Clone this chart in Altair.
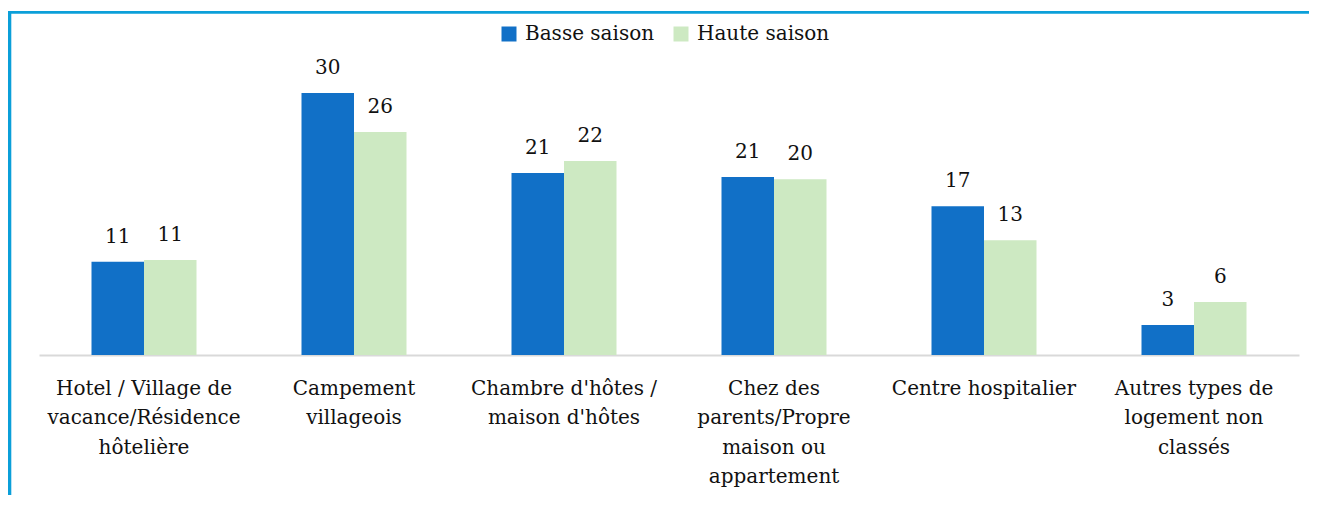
import altair as alt
import pandas as pd

categories = [
    "Hotel / Village de vacance/Résidence hôtelière",
    "Campement villageois",
    "Chambre d'hôtes / maison d'hôtes",
    "Chez des parents/Propre maison ou appartement",
    "Centre hospitalier",
    "Autres types de logement non classés",
]
label_lines = [
    ["Hotel / Village de", "vacance/Résidence", "hôtelière"],
    ["Campement", "villageois"],
    ["Chambre d'hôtes /", "maison d'hôtes"],
    ["Chez des", "parents/Propre", "maison ou", "appartement"],
    ["Centre hospitalier"],
    ["Autres types de", "logement non", "classés"],
]
series = ["Basse saison", "Haute saison"]
basse = [10.76, 30.25, 21.03, 20.57, 17.19, 3.46]
haute = [10.96, 25.76, 22.41, 20.30, 13.26, 6.11]
colors = ["#1170c7", "#cde9c2"]

rows = []
for c, b, h in zip(categories, basse, haute):
    rows.append({"cat": c, "series": series[0], "value": b})
    rows.append({"cat": c, "series": series[1], "value": h})
df = pd.DataFrame(rows)

# label expression: split categories into wrapped lines
expr = "datum.label"
for c, lines in reversed(list(zip(categories, label_lines))):
    c_esc = c.replace("'", "\\'")
    arr = "[" + ",".join("'" + l.replace("'", "\\'") + "'" for l in lines) + "]"
    expr = f"datum.label == '{c_esc}' ? {arr} : ({expr})"

FONT = "DejaVu Serif"

x_enc = alt.X(
    "cat:N",
    sort=categories,
    scale=alt.Scale(paddingInner=0.5, paddingOuter=0.25),
    axis=alt.Axis(
        title=None,
        labelAngle=0,
        labelExpr=expr,
        labelFont=FONT,
        labelFontSize=20,
        labelColor="#111111",
        labelLineHeight=29.5,
        labelPadding=23,
        labelBaseline="top",
        ticks=False,
        tickSize=0,
        domainColor="#d9d9d9",
        domainWidth=2,
        grid=False,
        labelLimit=400,
    ),
)
y_enc = alt.Y("value:Q", scale=alt.Scale(domain=[0, 35]), axis=None)
xo = alt.XOffset("series:N", sort=series)

base = alt.Chart(df)
bars = base.mark_bar().encode(
    x=x_enc,
    xOffset=xo,
    y=y_enc,
    color=alt.Color(
        "series:N",
        sort=series,
        scale=alt.Scale(domain=series, range=colors),
        legend=alt.Legend(
            title=None,
            orient="none",
            direction="horizontal",
            legendX=460,
            legendY=-28,
            symbolType="square",
            symbolSize=225,
            symbolStrokeWidth=0,
            labelFont=FONT,
            labelFontSize=20,
            labelColor="#111111",
            labelOffset=6,
            columnPadding=16,
            padding=0,
            labelLimit=300,
        ),
    ),
)
text = base.mark_text(
    font=FONT, fontSize=20, baseline="alphabetic", dy=-19, color="#111111"
).encode(
    x=x_enc,
    xOffset=xo,
    y=y_enc,
    text=alt.Text("value:Q", format=".0f"),
)

frame_df = pd.DataFrame({"a": [0]})
frame_color = "#0b9fd9"
left_line = alt.Chart(frame_df).mark_rule(color=frame_color, strokeWidth=3.3).encode(
    x=alt.value(-29.35), y=alt.value(-41), y2=alt.value(470)
)
top_line = alt.Chart(frame_df).mark_rule(color=frame_color, strokeWidth=2.7).encode(
    x=alt.value(-31), x2=alt.value(1280), y=alt.value(-39.65)
)

chart = (
    alt.layer(bars, text, left_line, top_line)
    .properties(
        width=1260,
        height=303,
        autosize=alt.AutoSizeParams(type="none"),
        padding={"left": 31, "top": 44, "right": 10, "bottom": 140},
        background="white",
    )
    .configure_view(stroke=None)
)

chart.save("out.html", embed_options={"renderer": "svg", "actions": False})
